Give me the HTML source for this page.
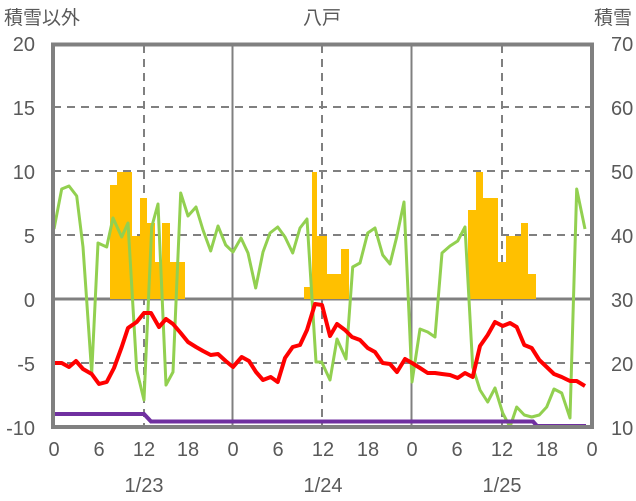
<!DOCTYPE html>
<html><head><meta charset="utf-8"><style>
html,body{margin:0;padding:0;background:#fff;}
svg{display:block;}
text{font-family:"Liberation Sans","Noto Sans CJK JP",sans-serif;fill:#595959;}
</style></head><body>
<svg width="636" height="501" viewBox="0 0 636 501" xmlns="http://www.w3.org/2000/svg">
<rect width="636" height="501" fill="#fff"/>
<!-- horizontal dashed grid -->
<g stroke="#808080" stroke-width="2" stroke-dasharray="8,6">
<line x1="53" y1="107" x2="592" y2="107"/>
<line x1="53" y1="171" x2="592" y2="171"/>
<line x1="53" y1="235" x2="592" y2="235"/>
<line x1="53" y1="363" x2="592" y2="363"/>
<line x1="144" y1="45" x2="144" y2="427"/>
<line x1="322" y1="45" x2="322" y2="427"/>
<line x1="502" y1="45" x2="502" y2="427"/>
</g>
<g stroke="#808080" stroke-width="2">
<line x1="53" y1="299" x2="592" y2="299" stroke-width="3"/>
<line x1="232.5" y1="45" x2="232.5" y2="427"/>
<line x1="411.5" y1="45" x2="411.5" y2="427"/>
</g>
<!-- bars -->
<g fill="#FFC000">
<rect x="110" y="185" width="7" height="114"/>
<rect x="117" y="172" width="15" height="127"/>
<rect x="132" y="236" width="8" height="63"/>
<rect x="140" y="198" width="7" height="101"/>
<rect x="147" y="223" width="8" height="76"/>
<rect x="155" y="262" width="7" height="37"/>
<rect x="162" y="223" width="8" height="76"/>
<rect x="170" y="262" width="15" height="37"/>
<rect x="304" y="287" width="8" height="12"/>
<rect x="312" y="172" width="5" height="127"/>
<rect x="317" y="236" width="10" height="63"/>
<rect x="327" y="274" width="14" height="25"/>
<rect x="341" y="249" width="8" height="50"/>
<rect x="468" y="210" width="8" height="89"/>
<rect x="476" y="172" width="7" height="127"/>
<rect x="483" y="198" width="15" height="101"/>
<rect x="498" y="262" width="8" height="37"/>
<rect x="506" y="236" width="15" height="63"/>
<rect x="521" y="223" width="7" height="76"/>
<rect x="528" y="274" width="8" height="25"/>
</g>
<!-- green -->
<polyline fill="none" stroke="#92D050" stroke-width="3" stroke-linejoin="round" points="54,229 61.7,189 69,186 76.7,196 83,247 91.7,373 98,243 106.7,247 113,218 121.7,237 128,223 136.7,370 144,400 151.7,227 158,204 166,385 173,372 180.7,193 188,216 196,207 203,230 210.7,251 218,226 225.7,245 233,252 241,238 248,253 255.7,288 263,252 270,233 277.7,227 285,237 292.7,253 300,228 307,219 316,362 321.7,362 330,380 337,339 346,359 352.7,267 360,263 367.7,233 375,228 382.7,255 390,264 396.7,237 404,202 412,382 420,329 427.7,332 435,337 442,253 450,246 457.7,241 465,227 472.7,367 480,390 487.7,402 495,388 502.7,413 510,427 516.7,407 524.3,415 531.7,417 539.3,415 546.7,407 554,389 561.7,393 570,418 576.7,189 585,229"/>
<!-- red -->
<polyline fill="none" stroke="#FF0000" stroke-width="4" stroke-linejoin="round" points="54,363 61.7,363 69,367 76,361 83,369 91.7,374 99,384 106.7,382 114,368 121.7,347 128,328 136.7,322 144,313 151,313 159,327 166,319 173,324 180.7,333 188,342 196,347 203,351 210.7,355 218,354 225.7,361 233,367 241.7,357 249,361 256,372 263,380 270.7,377 277.7,382 285,358 292.7,347 300,345 307,330 315,304 322,305 330,336 337,324 345,330 352,337 360,340 367.7,348 375,352 382.7,363 390,364 397,372 405,359 412,363 420,368 427.7,373 435,373 442,374 450,375 457.7,378 465,373 472.7,377 480,346 487.7,335 495,322 502.7,326 510,323 516.7,327 524.3,345 531.7,348 539.3,360 546.7,367 554,374 561.7,377 570,381 576.7,381 585,386"/>
<!-- purple -->
<polyline fill="none" stroke="#7030A0" stroke-width="4" points="53,414 144,414 151,421.5 533,421.5 537,426 586,426"/>
<!-- frame -->
<rect x="53" y="44.5" width="539" height="382.5" fill="none" stroke="#808080" stroke-width="4"/>
<!-- left labels -->
<g font-size="20" text-anchor="end">
<text x="35" y="51">20</text>
<text x="35" y="115">15</text>
<text x="35" y="179">10</text>
<text x="35" y="243">5</text>
<text x="35" y="307">0</text>
<text x="35" y="371">-5</text>
<text x="35" y="435">-10</text>
</g>
<g font-size="20" text-anchor="start">
<text x="611" y="51">70</text>
<text x="611" y="115">60</text>
<text x="611" y="179">50</text>
<text x="611" y="243">40</text>
<text x="611" y="307">30</text>
<text x="611" y="371">20</text>
<text x="611" y="435">10</text>
</g>
<g font-size="20" text-anchor="middle">
<text x="54" y="456">0</text><text x="99" y="456">6</text><text x="144" y="456">12</text><text x="188" y="456">18</text>
<text x="233" y="456">0</text><text x="278" y="456">6</text><text x="323" y="456">12</text><text x="368" y="456">18</text>
<text x="412" y="456">0</text><text x="457" y="456">6</text><text x="502" y="456">12</text><text x="547" y="456">18</text>
<text x="592" y="456">0</text>
<text x="144" y="492">1/23</text><text x="323" y="492">1/24</text><text x="502" y="492">1/25</text>
</g>
<text x="4" y="24" font-size="19">積雪以外</text>
<text x="322" y="24" font-size="19" text-anchor="middle">八戸</text>
<text x="632" y="24" font-size="19" text-anchor="end">積雪</text>
</svg>
</body></html>
